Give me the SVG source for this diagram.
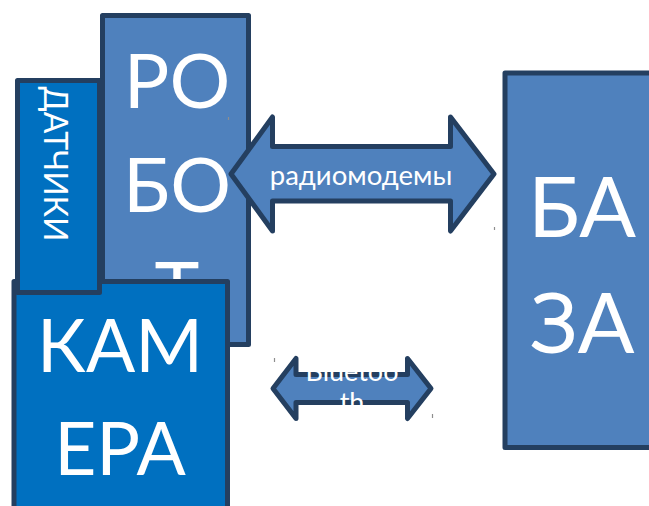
<svg xmlns="http://www.w3.org/2000/svg" width="649" height="506" viewBox="0 0 649 506">
<style>
.box{stroke:#243F60;stroke-width:5;stroke-linejoin:round}
.mid{fill:#4F81BD}
.dark{fill:#0070C0}
.t{fill:#FFFFFF;font-family:Lato,"Noto Sans",sans-serif;text-anchor:middle}
.tick{stroke:#8E8E8E;stroke-width:1.2}
</style>
<rect width="649" height="506" fill="#FFFFFF"/>
<g id="robot">
<rect class="box mid" x="102.5" y="15.5" width="146" height="329"/>
<text class="t" font-size="76" x="177" y="108">РО</text>
<text class="t" font-size="76" x="177" y="212">БО</text>
<text class="t" font-size="76" x="177" y="316">Т</text>
</g>
<g id="kamera">
<rect class="box dark" x="14" y="281.5" width="213.5" height="240"/>
<text class="t" font-size="73" x="120" y="372">КАМ</text>
<text class="t" font-size="73" x="120" y="475">ЕРА</text>
</g>
<g id="datchiki">
<rect class="box dark" x="17.5" y="80.5" width="82" height="212"/>
<text class="t" font-size="32" transform="translate(44,164) rotate(90)">ДАТЧИКИ</text>
</g>
<g id="baza">
<rect class="box mid" x="505" y="73" width="160" height="374.5"/>
<text class="t" font-size="84" x="582" y="237">БА</text>
<text class="t" font-size="84" x="582" y="353">ЗА</text>
</g>
<g id="connectors">
<g id="radio">
<polygon class="box mid" points="231,174 272.5,117 272.5,146.5 450.5,146.5 450.5,117 494,174 450.5,231 450.5,201 272.5,201 272.5,231"/>
<text class="t" font-size="27.5" x="361" y="185">радиомодемы</text>
</g>
<g id="bluetooth">
<polygon class="box mid" points="273,388.5 296,358.5 296,374.5 407.5,374.5 407.5,358.5 431,388.5 407.5,418.5 407.5,402.5 296,402.5 296,418.5"/>
<text class="t" font-size="27" x="352" y="381">Bluetoo</text>
<text class="t" font-size="27" x="352" y="412">th</text>
</g>
</g>
<g id="marks">
<line class="tick" x1="228.5" y1="117" x2="228.5" y2="120"/>
<line class="tick" x1="494.5" y1="227" x2="494.5" y2="230"/>
<line class="tick" x1="274.5" y1="358" x2="274.5" y2="362"/>
<line class="tick" x1="432.5" y1="414" x2="432.5" y2="418"/>
</g>
</svg>
